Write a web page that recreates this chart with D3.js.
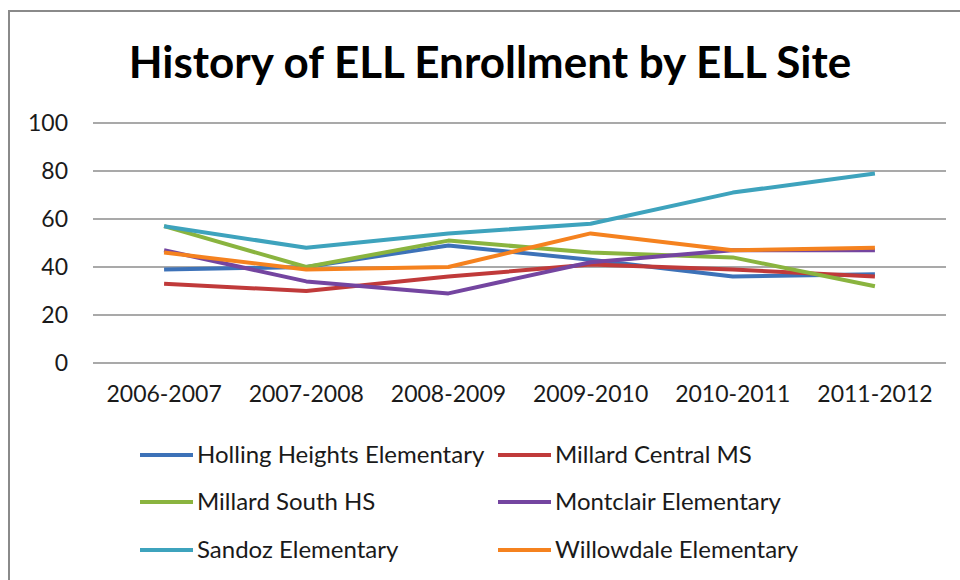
<!DOCTYPE html>
<html>
<head>
<meta charset="utf-8">
<script src="https://cdn.jsdelivr.net/npm/d3@7"></script>
<style>
  html, body { margin: 0; padding: 0; background: #fff; }
  svg { display: block; }
  text { font-family: Lato, "Open Sans", sans-serif; }
</style>
</head>
<body>
<svg id="chart" width="960" height="580"></svg>
<script>
const title = "History of ELL Enrollment by ELL Site";
const categories = ["2006-2007", "2007-2008", "2008-2009", "2009-2010", "2010-2011", "2011-2012"];
const yTicks = [0, 20, 40, 60, 80, 100];

const seriesNames = [
  "Holling Heights Elementary", "Millard Central MS",
  "Millard South HS", "Montclair Elementary",
  "Sandoz Elementary", "Willowdale Elementary"
];
const hollingHeights = [39, 40, 49, 43, 36, 37];
const millardCentral = [33, 30, 36, 41, 39, 36];
const millardSouth   = [57, 40, 51, 46, 44, 32];
const montclair      = [47, 34, 29, 42, 47, 47];
const sandoz         = [57, 48, 54, 58, 71, 79];
const willowdale     = [46, 39, 40, 54, 47, 48];
const seriesValues = [hollingHeights, millardCentral, millardSouth, montclair, sandoz, willowdale];
const seriesColors = ["#3d72b8", "#c03a3a", "#8ab43f", "#7445a0", "#3ea3bd", "#f5821f"];

const svg = d3.select("#chart");

// frame
svg.append("path")
  .attr("d", "M9,580 L9,11 L960,11")
  .attr("fill", "none").attr("stroke", "#8a8a8a").attr("stroke-width", 2);

const plot = { left: 93, right: 946, top: 123, bottom: 363 };

const x = d3.scaleBand().domain(categories).range([plot.left, plot.right]);
const y = d3.scaleLinear().domain([0, 100]).range([plot.bottom, plot.top]);

// gridlines
svg.append("g").selectAll("line").data(yTicks).join("line")
  .attr("x1", plot.left).attr("x2", plot.right)
  .attr("y1", d => y(d)).attr("y2", d => y(d))
  .attr("stroke", "#8c8c8c").attr("stroke-width", 1.5);

// y axis labels
const yAxis = svg.append("g").attr("transform", `translate(${plot.left},0)`)
  .call(d3.axisLeft(y).tickValues(yTicks).tickSize(0).tickPadding(25));
yAxis.select(".domain").remove();
yAxis.selectAll("text").attr("font-size", 23).attr("fill", "#1a1a1a")
  .style("font-family", "Lato, sans-serif");

// x axis labels
const xAxis = svg.append("g").attr("transform", `translate(0,${plot.bottom})`)
  .call(d3.axisBottom(x).tickSize(0).tickPadding(23));
xAxis.select(".domain").remove();
xAxis.selectAll("text").attr("font-size", 23).attr("fill", "#1a1a1a")
  .style("font-family", "Lato, sans-serif");

// lines
const line = d3.line()
  .x((d, i) => x(categories[i]) + x.bandwidth() / 2)
  .y(d => y(d));

svg.append("g").selectAll("path").data(seriesValues).join("path")
  .attr("d", d => line(d))
  .attr("fill", "none")
  .attr("stroke", (d, i) => seriesColors[i])
  .attr("stroke-width", 4)
  .attr("stroke-linejoin", "round");

// title
svg.append("text")
  .attr("x", 490).attr("y", 78)
  .attr("text-anchor", "middle")
  .attr("font-size", 44).attr("font-weight", "bold").attr("fill", "#000")
  .text(title);

// legend
const legendCols = [140, 498];
const legendRows = [455, 502, 550];
const legend = svg.append("g").selectAll("g").data(seriesNames).join("g")
  .attr("transform", (d, i) => `translate(${legendCols[i % 2]},${legendRows[Math.floor(i / 2)]})`);
legend.append("line")
  .attr("x1", 0).attr("x2", 53).attr("y1", 0).attr("y2", 0)
  .attr("stroke", (d, i) => seriesColors[i]).attr("stroke-width", 4);
legend.append("text")
  .attr("x", 57).attr("y", 0).attr("dy", "0.35em")
  .attr("font-size", 24).attr("fill", "#1a1a1a")
  .text(d => d);
</script>
</body>
</html>
